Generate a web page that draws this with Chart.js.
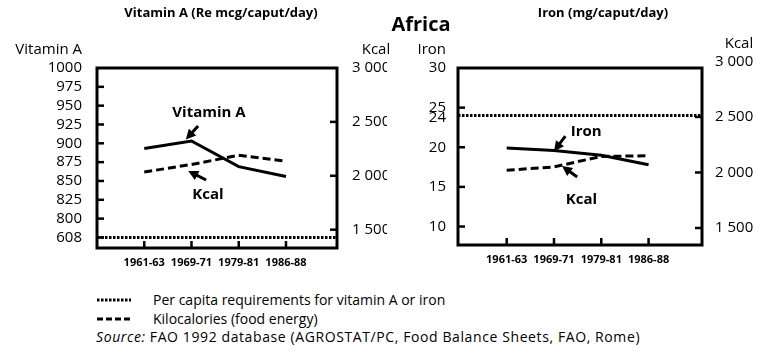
<!DOCTYPE html>
<html>
<head>
<meta charset="utf-8">
<script src="https://cdn.jsdelivr.net/npm/chart.js@4.4.1/dist/chart.umd.min.js"></script>
<style>
  body { margin: 0; background: #fff; font-family: 'Open Sans', sans-serif; color: #000; }
  #wrap { position: relative; width: 764px; height: 353px; overflow: hidden; background: #fff; }
  canvas { position: absolute; left: 0; top: 0; }
  .t { position: absolute; white-space: nowrap; line-height: 1; }
  .head { font-size: 13px; font-weight: bold; transform: translateX(-50%); }
  .leg { font-size: 14px; }
  .leg svg { position: absolute; left: -56px; top: 4px; }
</style>
</head>
<body>
<div id="wrap">
  <canvas id="vitA" width="764" height="280"></canvas>
  <canvas id="iron" width="764" height="280"></canvas>

  <div class="t head" style="left:221px; top:6px;">Vitamin A (Re mcg/caput/day)</div>
  <div class="t head" style="left:603px; top:6px;">Iron (mg/caput/day)</div>
  <div class="t head" style="left:421px; top:14px; font-size:20px;">Africa</div>

  <div class="t leg" style="left:153px; top:293px;">
    <svg width="34" height="6"><line x1="0" y1="3" x2="34" y2="3" stroke="#000" stroke-width="3" stroke-dasharray="2.5 1.5"/></svg>
    Per capita requirements for vitamin A or iron
  </div>
  <div class="t leg" style="left:153px; top:312px;">
    <svg width="34" height="6"><line x1="0" y1="3" x2="34" y2="3" stroke="#000" stroke-width="3" stroke-dasharray="6 3"/></svg>
    Kilocalories (food energy)
  </div>
  <div class="t leg" style="left:96px; top:330px; letter-spacing:0.6px;"><i>Source:</i> FAO 1992 database (AGROSTAT/PC, Food Balance Sheets, FAO, Rome)</div>
</div>

<script>
// periods on the x axis
const periods = ['1961-63', '1969-71', '1979-81', '1986-88'];

// Vitamin A panel
const vitaminA = [893, 903, 869, 856];
const kcalVitPanel = [2035, 2105, 2190, 2135];
const vitaminAReq = 608;
const vitaminATicks = [608, 800, 825, 850, 875, 900, 925, 950, 975, 1000];

// Iron panel
const iron = [19.9, 19.6, 19.0, 17.8];
const kcalIronPanel = [2020, 2050, 2145, 2150];
const ironReq = 24;
const ironTicks = [10, 15, 20, 25, 30];

const kcalTicks = [1500, 2000, 2500, 3000];

// broken vitamin A axis: everything under 800 is squeezed
const BREAK = 800, SQUEEZE = 0.13;
const brk = v => v >= BREAK ? v : BREAK - (BREAK - v) * SQUEEZE;

const thousands = v => String(v).replace(/\B(?=(\d{3})+(?!\d))/g, ' ');

Chart.defaults.font.family = "'Open Sans', sans-serif";
Chart.defaults.color = '#000';

// box, inner tick marks, axis titles, arrows
const frame = {
  id: 'frame',
  afterDraw(chart, args, opts) {
    const { ctx, chartArea: a, scales } = chart;
    ctx.save();
    ctx.setLineDash([]);
    ctx.fillStyle = '#000';

    ctx.strokeStyle = '#000';
    ctx.lineWidth = 3;
    ctx.strokeRect(a.left, a.top, a.right - a.left, a.bottom - a.top);

    // short tick marks pointing into the box
    ctx.strokeStyle = '#000000';
    ctx.lineWidth = 2.5;
    Object.keys(scales).forEach(id => {
      const sc = scales[id];
      sc.ticks.forEach(t => {
        const p = sc.getPixelForValue(t.value);
        ctx.beginPath();
        if (id === 'x') {
          ctx.moveTo(p, a.bottom);
          ctx.lineTo(p, a.bottom - 7);
        } else if (p > a.top + 3 && p <= a.bottom) {
          const edge = sc.position === 'left' ? a.left : a.right;
          const dir = sc.position === 'left' ? 1 : -1;
          ctx.moveTo(edge, p);
          ctx.lineTo(edge + dir * 7, p);
        }
        ctx.stroke();
      });
    });

    // axis titles above the tick labels
    ctx.font = "15px 'Open Sans'";
    ctx.textBaseline = 'middle';
    ctx.textAlign = 'right';
    opts.titles.forEach(({ axis, text, top }) => {
      const sc = scales[axis];
      const pad = sc.options.ticks.padding;
      const y = sc.getPixelForValue(top) - 18;
      if (sc.position === 'left') {
        ctx.fillText(text, sc.right - pad, y);
      } else {
        const w = Math.max(...sc.ticks.map(t => ctx.measureText(String(t.label)).width));
        ctx.fillText(text, sc.left + pad + w, y);
      }
    });
    (opts.extra || []).forEach(({ axis, value, text, dy }) => {
      const sc = scales[axis];
      ctx.fillText(text, sc.right - sc.options.ticks.padding, sc.getPixelForValue(value) + dy);
    });

    // labels with arrows
    const px = (axis, [x, y]) => [scales.x.getPixelForValue(x), scales[axis].getPixelForValue(y)];
    ctx.font = "bold 15px 'Open Sans'";
    ctx.textAlign = 'center';
    opts.notes.forEach(n => {
      const [tx, ty] = px(n.axis, n.label);
      ctx.fillText(n.text, tx, ty);
      const [x0, y0] = px(n.axis, n.from);
      const [x1, y1] = px(n.axis, n.to);
      const ang = Math.atan2(y1 - y0, x1 - x0);
      const c = Math.cos(ang), s = Math.sin(ang);
      ctx.lineWidth = 3;
      ctx.beginPath();
      ctx.moveTo(x0, y0);
      ctx.lineTo(x1 - 6 * c, y1 - 6 * s);
      ctx.stroke();
      ctx.beginPath();
      ctx.moveTo(x1, y1);
      ctx.lineTo(x1 - 10 * c + 5 * s, y1 - 10 * s - 5 * c);
      ctx.lineTo(x1 - 10 * c - 5 * s, y1 - 10 * s + 5 * c);
      ctx.closePath();
      ctx.fill();
    });
    ctx.restore();
  }
};

function lineSet(data, axis, dash) {
  return {
    data, yAxisID: axis,
    borderColor: '#000', borderWidth: 3, borderDash: dash,
    pointRadius: 0, tension: 0, fill: false
  };
}

function xScale(min, max, h) {
  return {
    type: 'linear', min, max,
    grid: { display: false, drawTicks: false }, border: { display: false },
    afterBuildTicks: s => { s.ticks = periods.map((_, i) => ({ value: i })); },
    afterFit: s => { s.height = h; },
    ticks: { padding: 8, font: { size: 11, weight: 'bold' }, callback: v => periods[v], autoSkip: false, maxRotation: 0 }
  };
}

function yScale(position, min, max, values, width, pad, label) {
  return {
    type: 'linear', position, min, max,
    grid: { display: false, drawTicks: false }, border: { display: false },
    afterBuildTicks: s => { s.ticks = values.map(v => ({ value: v })); },
    afterFit: s => { s.width = width; },
    ticks: { padding: pad, font: { size: 15 }, autoSkip: false, callback: label }
  };
}

// ---- Vitamin A panel
const X1 = { min: -1, max: 4.08 };
new Chart(document.getElementById('vitA'), {
  type: 'line',
  data: {
    datasets: [
      lineSet(vitaminA.map((v, i) => ({ x: i, y: brk(v) })), 'y', []),
      lineSet(kcalVitPanel.map((v, i) => ({ x: i, y: v })), 'y2', [8, 4]),
      lineSet([{ x: X1.min, y: brk(vitaminAReq) }, { x: X1.max, y: brk(vitaminAReq) }], 'y', [2.5, 1.5])
    ]
  },
  options: {
    responsive: false, animation: false,
    layout: { padding: { top: 68, left: 0, right: 377, bottom: 0 } },
    plugins: {
      legend: { display: false }, tooltip: { enabled: false },
      frame: {
        titles: [
          { axis: 'y', text: 'Vitamin A', top: 1000 },
          { axis: 'y2', text: 'Kcal', top: 3000 }
        ],
        notes: [
          { axis: 'y', text: 'Vitamin A', label: [1.37, 941], from: [1.14, 923], to: [0.88, 905] },
          { axis: 'y2', text: 'Kcal', label: [1.35, 1822], from: [1.31, 1961], to: [0.93, 2045] }
        ]
      }
    },
    scales: {
      x: xScale(X1.min, X1.max, 32),
      y: yScale('left', 761, 1000, vitaminATicks.map(brk), 97, 15, (v, i) => vitaminATicks[i]),
      y2: yScale('right', 1330, 3000, kcalTicks, 50, 15, v => thousands(v))
    }
  },
  plugins: [frame]
});

// ---- Iron panel
const X2 = { min: -1.03, max: 4.13 };
new Chart(document.getElementById('iron'), {
  type: 'line',
  data: {
    datasets: [
      lineSet(iron.map((v, i) => ({ x: i, y: v })), 'y', []),
      lineSet(kcalIronPanel.map((v, i) => ({ x: i, y: v })), 'y2', [8, 4]),
      lineSet([{ x: X2.min, y: ironReq }, { x: X2.max, y: ironReq }], 'y', [2.5, 1.5])
    ]
  },
  options: {
    responsive: false, animation: false,
    layout: { padding: { top: 68, left: 398, right: 0, bottom: 0 } },
    plugins: {
      legend: { display: false }, tooltip: { enabled: false },
      frame: {
        titles: [
          { axis: 'y', text: 'Iron', top: 30 },
          { axis: 'y2', text: 'Kcal', top: 3000 }
        ],
        extra: [{ axis: 'y', value: ironReq, text: String(ironReq), dy: 2 }],
        notes: [
          { axis: 'y', text: 'Iron', label: [1.68, 22.0], from: [1.24, 21.4], to: [1.0, 19.5] },
          { axis: 'y2', text: 'Kcal', label: [1.58, 1752], from: [1.49, 1959], to: [1.17, 2058] }
        ]
      }
    },
    scales: {
      x: xScale(X2.min, X2.max, 35),
      y: yScale('left', 7.67, 30, ironTicks, 60, 12, v => v),
      y2: yScale('right', 1347, 2941, kcalTicks, 62, 13, v => thousands(v))
    }
  },
  plugins: [frame]
});
</script>
</body>
</html>
